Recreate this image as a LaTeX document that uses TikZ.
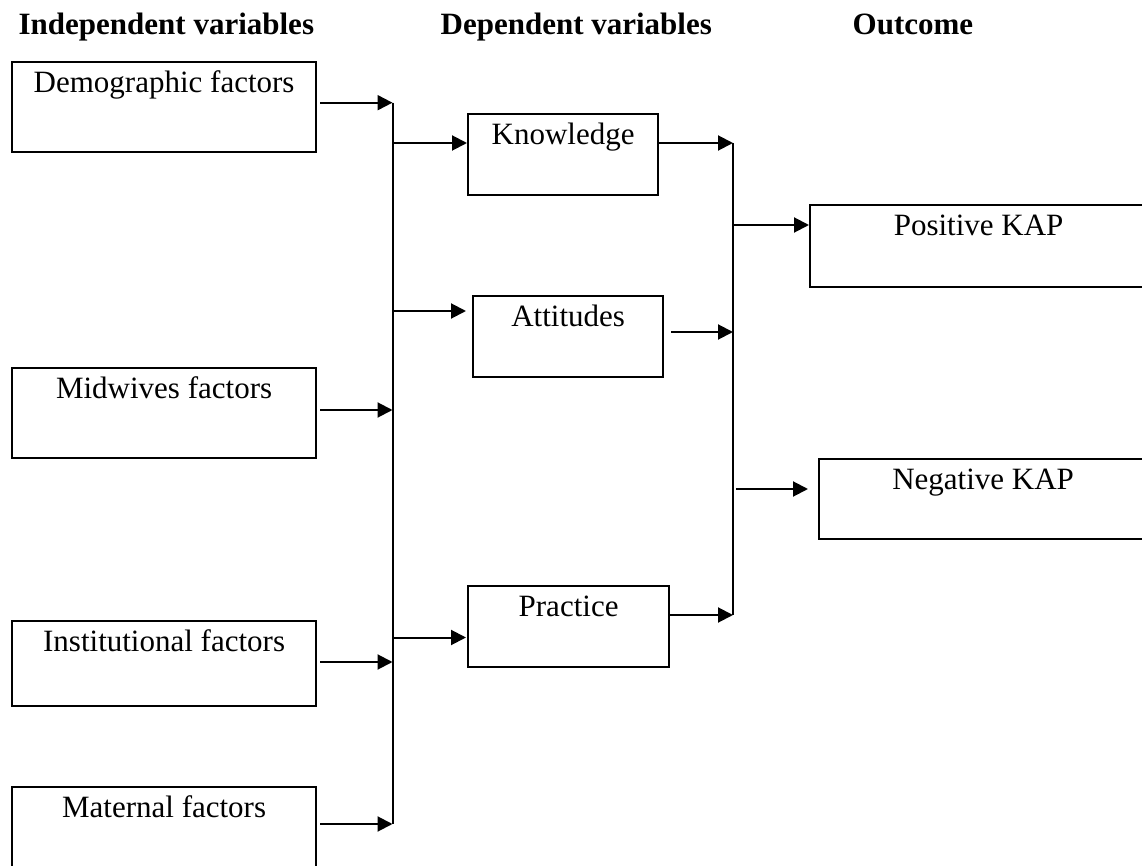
\documentclass[tikz,border=0pt]{standalone}
\usepackage{fontspec}
\setmainfont{Liberation Serif}
\usetikzlibrary{arrows.meta}

\begin{document}
\begin{tikzpicture}[x=0.5pt,y=-0.5pt,>={Triangle[length=7.5pt,width=7.5pt]},
                    line width=1pt,font=\fontsize{15.5}{18}\selectfont,
                    box node/.style={draw,line width=1.1pt,anchor=north west,inner sep=0pt,
                                     text height=15pt,text depth=#1},
                    factor node/.style={box node=30pt,minimum width=152pt},
                    var node/.style={box node=25.5pt,minimum width=95pt},
                    kap node/.style={box node=26pt},
                    head node/.style={anchor=base west,font=\fontsize{15.5}{18}\selectfont\bfseries}]
  \useasboundingbox (0,0) rectangle (1142,866);

  % headings
  \node[head node] (indep) at (11,35) {Independent variables};
  \node[head node] (dep) at (433,35) {Dependent variables};
  \node[head node] (outc) at (845,35) {Outcome};

  % independent variables
  \node[factor node] (demo) at (11,61) {Demographic factors};
  \node[factor node] (mid) at (11,367) {Midwives factors};
  \node[factor node,text depth=27.5pt] (inst) at (11,620) {Institutional factors};
  \node[factor node] (mat) at (11,786) {Maternal factors};

  % dependent variables
  \node[var node] (know) at (467,113) {Knowledge};
  \node[var node] (att) at (472,295) {Attitudes};
  \node[var node,minimum width=100.5pt] (prac) at (467,585) {Practice};

  % outcome
  \node[kap node,minimum width=168.5pt] (pos) at (809,204) {Positive KAP};
  \node[kap node,minimum width=164pt,text depth=25pt] (neg) at (818,458) {Negative KAP};

  % junctions on the left bus
  \coordinate (l1) at (392.5,102.7);
  \coordinate (l2) at (392.5,143);
  \coordinate (l3) at (392.5,311);
  \coordinate (l4) at (392.5,410);
  \coordinate (l5) at (392.5,637.5);
  \coordinate (l6) at (392.5,662);
  \coordinate (l7) at (392.5,824);
  % junctions on the right bus
  \coordinate (r1) at (733,143);
  \coordinate (r2) at (733,225);
  \coordinate (r3) at (733,332);
  \coordinate (r4) at (736,489);
  \coordinate (r5) at (733,615);

  \draw (l1) -- (l7);
  \draw (r1) -- (r5);

  \path[->,shorten <=1.5pt]
    (demo.east |- l1) edge (l1)
    (mid.east |- l4) edge (l4)
    (inst.east |- l6) edge (l6)
    (mat.east |- l7) edge (l7)
;
  \path[->]
    (l2) edge (l2 -| know.west)
    (l3) edge[shorten >=3pt] (l3 -| att.west)
    (l5) edge[shorten >=0.5pt] (l5 -| prac.west)
    (know.east |- r1) edge (r1)
    (att.east |- r3) edge[shorten <=3.5pt] (r3)
    (prac.east |- r5) edge (r5)
    (r2) edge (r2 -| pos.west)
    (r4) edge[shorten >=5pt] (r4 -| neg.west)
;
\end{tikzpicture}
\end{document}
